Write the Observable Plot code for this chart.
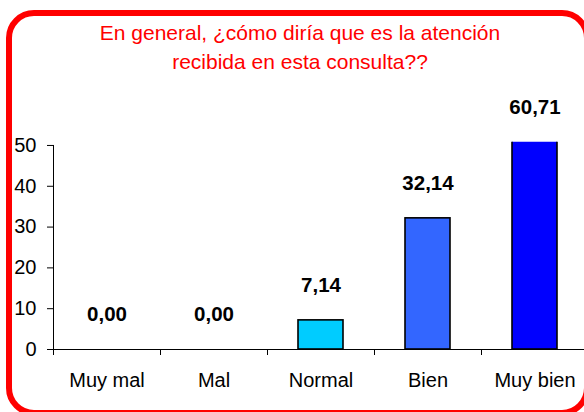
<!DOCTYPE html>
<html><head><meta charset="utf-8">
<script src="https://cdn.jsdelivr.net/npm/d3@7"></script>
<script src="https://cdn.jsdelivr.net/npm/@observablehq/plot@0.6"></script>
<style>
body{margin:0;background:#fff;}
#wrap{position:relative;width:584px;height:412px;overflow:hidden;font-family:"Liberation Sans",Arial,sans-serif;background:#fff;}
#border{position:absolute;left:6px;top:10px;width:584px;height:406px;box-sizing:border-box;border:6px solid #ff0000;border-radius:28px;pointer-events:none;}
#title{position:absolute;left:0;top:18px;width:600px;text-align:center;color:#ff0000;font-size:21px;line-height:29px;}
#chart{position:absolute;left:0;top:0;width:590px;height:412px;}
</style></head><body>
<div id="wrap">
  <div id="chart"></div>
  <div id="title">En general, ¿cómo diría que es la atención<br>recibida en esta consulta??</div>
  <div id="border"></div>
</div>
<script>
const categories = ["Muy mal", "Mal", "Normal", "Bien", "Muy bien"];
const values = [0, 0, 7.14, 32.14, 60.71];
const valueLabels = ["0,00", "0,00", "7,14", "32,14", "60,71"];
const barColors = ["#00CCFF", "#00CCFF", "#00CCFF", "#3366FF", "#0000FF"];
const yTicks = [0, 10, 20, 30, 40, 50];
const yMax = 50.8;

const data = categories.map((c, i) => ({cat: c, value: values[i], label: valueLabels[i], color: barColors[i]}));

const W = 590, H = 412, mL = 53, mR = 2, mT = 141.7, mB = 63;
const step = (W - mL - mR) / categories.length;

const chart = Plot.plot({
  width: W, height: H,
  marginLeft: mL, marginRight: mR, marginTop: mT, marginBottom: mB,
  style: {fontFamily: "'Liberation Sans', Arial, sans-serif", fontSize: "20px", color: "#000", background: "transparent", maxWidth: "none", overflow: "visible"},
  x: {domain: categories, padding: 0, axis: null, label: null},
  y: {domain: [0, yMax], axis: null, label: null},
  color: {type: "identity"},
  marks: [
    Plot.barY(data, {x: "cat", y: "value", fill: "color", stroke: "#000", strokeWidth: 1.6, insetLeft: 31, insetRight: 31, clip: true}),
    Plot.ruleY([0], {stroke: "#000", strokeWidth: 1}),
    Plot.ruleX([categories[0]], {y1: yTicks[0], y2: yTicks[yTicks.length - 1], dx: -step / 2, stroke: "#000", strokeWidth: 1}),
    Plot.axisY(yTicks, {tickSize: 6, tickPadding: 11, fontSize: 20, tickFormat: d => String(d), stroke: "#000", label: null}),
    Plot.axisX({tickSize: 6, tickFormat: () => "", dx: -step / 2, stroke: "#000", label: null}),
    Plot.axisX({tickSize: 0, tickPadding: 23.5, fontSize: 20, label: null}),
    Plot.text(data, {x: "cat", y: d => Math.min(d.value, yMax), text: "label", dy: -35, fontWeight: "bold", fontSize: 20.5, fill: "#000"})
  ]
});
document.getElementById("chart").appendChild(chart);
</script>
</body></html>
